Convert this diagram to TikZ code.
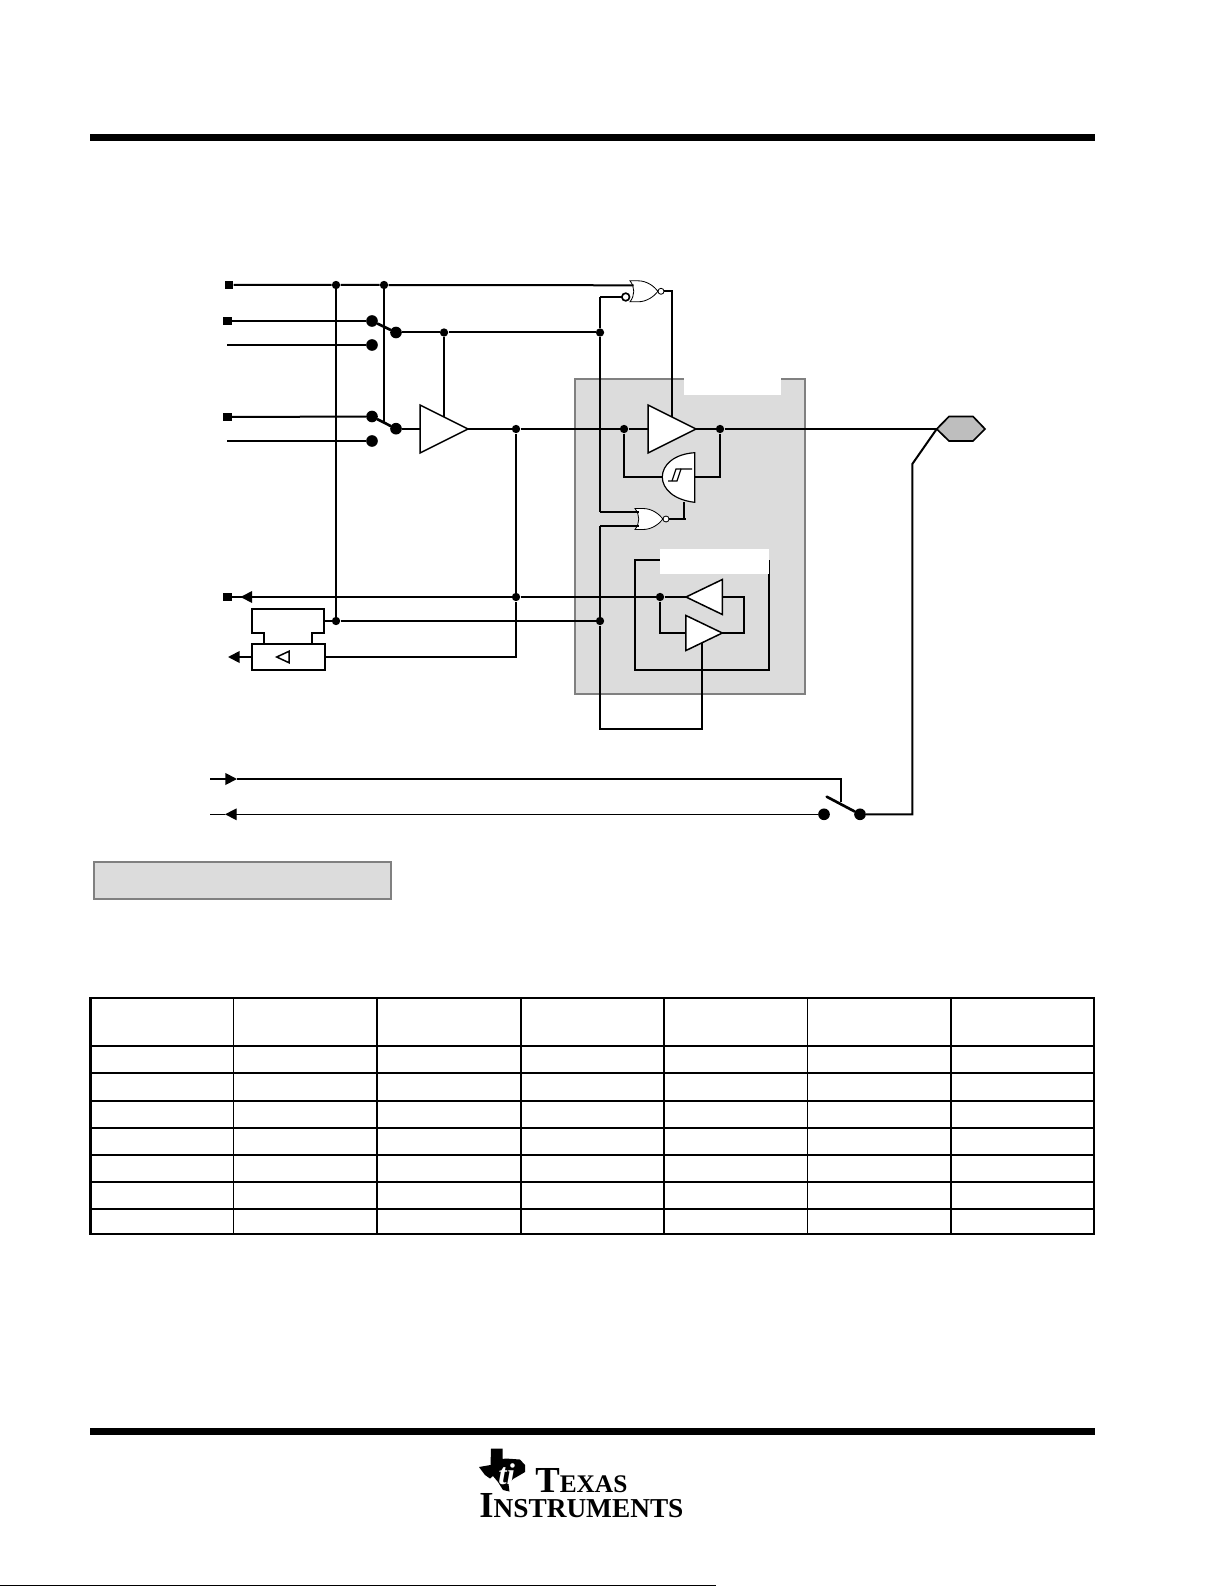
\documentclass[tikz,border=0pt]{standalone}
\usepackage{fontspec}
\setmainfont{Liberation Serif}
\usetikzlibrary{arrows.meta,shapes.geometric}
\definecolor{panel}{HTML}{DCDCDC}
\definecolor{panelline}{HTML}{808080}
\definecolor{padfill}{HTML}{BEBEBE}
\tikzset{
  wire/.style={line width=1.2pt},
  tipline/.style={line width=1.1pt,-{Triangle[length=7pt,width=7pt]}},
  dot/.style={circle,fill=black,inner sep=0,minimum size=5pt},
  bigdot/.style={circle,fill=black,inner sep=0,minimum size=7pt},
  pin/.style={rectangle,fill=black,inner sep=0,minimum size=5.2pt},
  lever/.style={line width=1.6pt,line cap=round},
  buf/.style={isosceles triangle,isosceles triangle stretches,draw,fill=white,line width=0.9pt,
    inner sep=0,outer sep=0,anchor=apex,minimum width=28.8pt,minimum height=28.8pt},
  smallbuf/.style={buf,minimum width=21pt,minimum height=21.8pt},
  panelbox/.style={draw=panelline,fill=panel,line width=1pt},
  blank/.style={fill=white,draw=none},
  rule/.style={fill=black,draw=none},
  cellline/.style={line width=1pt},
  logo/.style={inner sep=0,anchor=base west},
  pics/norgate/.style={code={
    \draw[fill=white,line width=0.5pt] (-14,-10.5) -- (-6,-10.5) .. controls (3,-10.5) and (10,-5) .. (14,0)
      .. controls (10,5) and (3,10.5) .. (-6,10.5) -- (-14,10.5)
      .. controls (-9,4) and (-9,-4) .. (-14,-10.5) -- cycle;
    \draw[fill=white,line width=0.5pt] (17,0) circle[radius=1.8pt];
    \coordinate (-out) at (20,0);
    \coordinate (-ina) at (-10.5,-#1);
    \coordinate (-inb) at (-10.5,#1);
  }}
}
\newcommand{\logoCap}{\fontsize{22pt}{22pt}\selectfont}
\newcommand{\logoSm}{\fontsize{15.2pt}{16pt}\selectfont}
\newcommand{\logoWide}{\fontsize{16.4pt}{17pt}\selectfont}
\begin{document}
\begin{tikzpicture}[x=0.6pt,y=-0.6pt]
  \useasboundingbox (0,0) rectangle (1226,1586);
  % page rules
  \fill[rule] (90,134) rectangle (1094.5,140.7);
  \fill[rule] (90,1428) rectangle (1094.5,1435);
  \fill[rule] (0,1584.6) rectangle (716,1586);
  % shaded areas
  \draw[panelbox] (574.7,379) rectangle (805.3,694);
  \draw[panelbox] (94,862) rectangle (391,899);

  % pins and junctions
  \node[pin] at (229,285) (pa) {};
  \node[pin] at (227.5,321) (pb) {};
  \coordinate (pc) at (227,345);
  \node[pin] at (227.5,417) (pd) {};
  \coordinate (pe) at (227,441);
  \node[pin] at (227.5,597) (pf) {};
  \node[dot] at (336,285) (ja) {};
  \node[dot] at (384,285) (jb) {};
  \node[bigdot] at (372,321) (sa) {};
  \node[bigdot] at (372,345) (sb) {};
  \node[bigdot] at (396,332.5) (sc) {};
  \node[bigdot] at (372,416.5) (sd) {};
  \node[bigdot] at (372,441) (se) {};
  \node[bigdot] at (396,428.7) (sf) {};
  \node[dot] at (444,332.5) (jc) {};
  \node[dot] at (600,332.5) (jd) {};
  \node[dot] at (516,429) (je) {};
  \node[dot] at (624,429) (jf) {};
  \node[dot] at (720,429) (jg) {};
  \node[dot] at (516,597) (jh) {};
  \node[dot] at (660,597) (ji) {};
  \node[dot] at (336,621) (jj) {};
  \node[dot] at (600,621) (jk) {};
  \coordinate (sw) at (384,422.5);
  \coordinate (pad) at (936.7,429);
  \coordinate (bend) at (912.3,464);

  % gates, placed before their wires so that anchors exist
  \pic (ntop) at (644,291.3) {norgate=6};
  \pic (nlow) at (649,519) {norgate=7};
  \coordinate (ntopin) at (626,297);
  \coordinate (aen) at (444,422);
  \coordinate (ben) at (672,422);
  \coordinate (cen) at (701.7,640);

  % wires
  \draw[wire] (pa) -- (ja) -- (jb) -- (ntop-ina);
  \draw[wire] (pb) -- (sa);
  \draw[wire] (pc) -- (sb);
  \draw[wire] (pd) -- (sd);
  \draw[wire] (pe) -- (se);
  \draw[wire] (sc) -- (jc) -- (jd);
  \draw[wire] (jc) -- (aen);
  \draw[wire] (jb) -- (sw);
  \draw[wire] (ja) -- (jj);
  \draw[wire] (sf) -- (420,428.7);
  \draw[wire] (468,429) -- (je) -- (jf) -- (648,429);
  \draw[wire] (696,429) -- (jg) -- (pad);
  \draw[wire] (je) -- (jh);
  \draw[wire] (jj) -- (jk);
  \draw[wire] (324,621) -- (jj);
  \draw[wire] (600,297) -- (jd);
  \draw[wire] (jd) -- (600,512);
  \draw[wire] (ntopin) -- (600,297);
  \draw[line width=0.8pt] (600,512) -- (nlow-ina);
  \draw[line width=0.8pt] (nlow-inb) -- (600,526);
  \draw[wire] (600,526) -- (jk) -- (600,729) -- (701.7,729) -- (cen);
  \draw[wire] (ntop-out) -- (672,291.3) -- (ben);
  \draw[wire] (jf) -- (624,476.7) -- (662.3,476.7);
  \draw[wire] (jg) -- (720,476.7) -- (694.7,476.7);
  \draw[wire] (nlow-out) -- (686,519);
  \draw[wire] (684.3,519) -- (684.3,502);

  % output cell
  \draw[wire] (jh) -- (ji) -- (686,597);
  \draw[wire] (722.3,597) -- (744.3,597) -- (744.3,633) -- (722.3,633);
  \draw[wire] (ji) -- (660,633) -- (686,633);
  \draw[wire] (660,560) -- (635,560) -- (635,670) -- (769,670) -- (769,560);

  % pass switch
  \coordinate (ctl) at (225,779);
  \node[bigdot] at (824,814.3) (pt) {};
  \node[bigdot] at (860,814.3) (pu) {};
  \coordinate (sy) at (840.7,802);
  \draw[line width=1.5pt] (210,779) -- (ctl);
  \draw[tipline] (225,779) -- (237,779);
  \draw[line width=1.1pt] (237,779) -- (840.7,779) -- (sy);
  \draw[line width=0.8pt] (pt) -- (237,814.3);
  \draw[line width=0.8pt,-{Triangle[length=7pt,width=7pt]}] (237,814.3) -- (225,814.3);
  \draw[line width=0.8pt] (225,814.3) -- (210,814.3);
  \draw[wire] (pu) -- (912.3,814.3) -- (bend) -- (pad);
  \draw[lever] (826.7,796.7) -- (pu);

  % levers
  \draw[lever] (sa) -- (sc);
  \draw[lever] (sd) -- (sf);

  % white cut-outs
  \fill[blank] (684,378) rectangle (781,395);
  \fill[blank] (660,549) rectangle (769,574);

  % buffers
  \node[buf] at (468,429) (ba) {};
  \node[buf] at (696,429) (bb) {};
  \node[smallbuf,shape border rotate=180] at (686,597) (bc) {};
  \node[smallbuf] at (722.3,633) (bd) {};

  % schmitt gate
  \draw[fill=white,line width=0.7pt] (694.7,452.7) .. controls (674,454) and (662.3,465) .. (662.3,477)
    .. controls (662.3,489) and (674,500) .. (694.7,502.3) -- cycle;
  \draw[line width=0.7pt] (668,481) -- (677,481) -- (681,469) -- (692,469);
  \draw[line width=0.7pt] (672,481) -- (676,469) -- (681,469);

  % inverting input on top gate
  \node[circle,draw,fill=white,line width=1pt,inner sep=0,minimum size=4.6pt] at (625.7,297) (nb) {};

  % pad
  \draw[fill=padfill,line width=1pt] (pad) -- (949,416.5) -- (973,416.5) -- (985,429) -- (973,441) -- (949,441) -- cycle;

  % latch boxes
  \draw[wire] (252,609) -- (324,609) -- (324,633) -- (312,633) -- (312,644) -- (264,644) -- (264,633) -- (252,633) -- cycle;
  \node[draw,line width=1.1pt,inner sep=0,minimum width=43.6pt,minimum height=15.6pt] at (288.5,657) (lat) {};
  \node[isosceles triangle,isosceles triangle stretches,draw,line width=0.9pt,inner sep=0,
    shape border rotate=180,minimum width=7pt,minimum height=7.5pt] at (285.5,657) (lattri) {};
  \coordinate (latout) at (240,657);
  \draw[wire] (lat.east) -- (516,657) -- (jh);
  \draw[wire] (lat.west) -- (latout);
  \draw[tipline] (252,657) -- (228,657);
  \draw[wire] (jh) -- (pf);
  \draw[tipline] (252,597) -- (240.5,597);

  % table
  \foreach \xa in {233.5,377,520.7,664,807.6,951.2}
    \draw[cellline] (\xa,998) -- (\xa,1233.7);
  \foreach \ya in {1045.7,1073.3,1100.7,1127.7,1154.7,1181.7,1208.7}
    \draw[cellline] (90.5,\ya) -- (1094,\ya);
  \draw[line width=1.3pt] (90.5,998) rectangle (1094,1233.7);

  % logo
  \fill (491,1448.5) -- (502.5,1448.5) -- (502.5,1459) -- (506,1458.5) -- (520,1459.5) -- (525,1465) -- (525,1472)
    -- (520,1475) -- (513,1479) -- (508.5,1484) -- (509.5,1491.5) -- (503,1490) -- (498,1482) -- (493,1476)
    -- (490,1478.5) -- (485,1475) -- (479,1467) -- (490.5,1465) -- cycle;
  \node[logo,text=white,font=\itshape\bfseries\fontsize{18pt}{18pt}\selectfont] at (498,1484) (ti) {ti};
  \node[logo,font=\bfseries] at (535,1492) (texas) {{\logoCap T}{\logoSm EXAS}};
  \node[logo,font=\bfseries] at (479,1517) (inst) {{\logoCap I}{\logoWide NSTRUMENTS}};
\end{tikzpicture}
\end{document}
